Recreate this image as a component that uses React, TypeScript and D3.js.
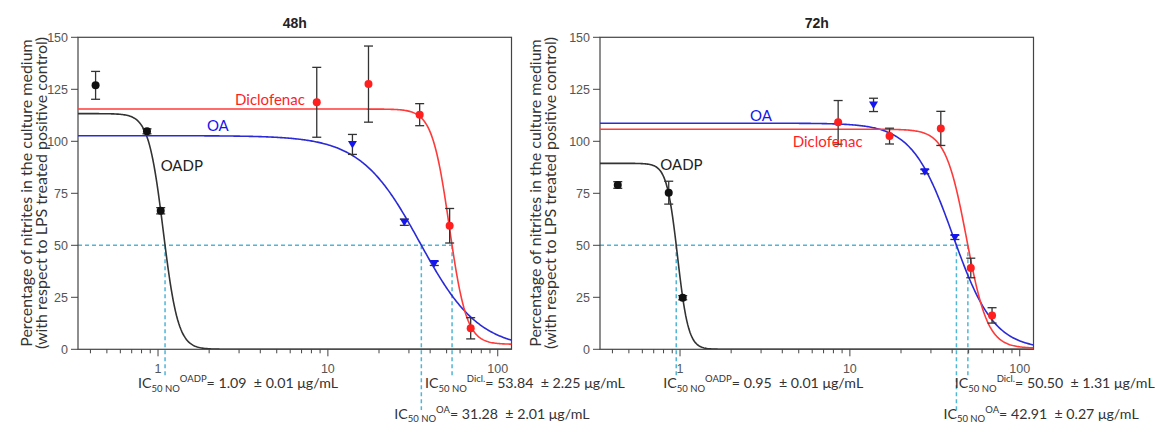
import React from 'react';
import * as d3 from 'd3';

// ---- data ----
const panelTitles = ['48h', '72h'];
const yTicks = [0, 25, 50, 75, 100, 125, 150];
const xLabelTicks = [1, 10, 100];

// 48h
const oadp48Conc = [0.429, 0.861, 1.037];
const oadp48Mean = [126.9, 104.8, 66.6];
const oadp48Err = [6.7, 1.2, 1.5];
const oa48Conc = [13.95, 28.2, 42.3];
const oa48Mean = [98.5, 61.1, 41.3];
const oa48Err = [4.8, 1.5, 1.0];
const dicl48Conc = [8.6, 17.34, 34.7, 52.1, 69.3];
const dicl48Mean = [118.75, 127.5, 112.8, 59.4, 10.1];
const dicl48Err = [16.8, 18.3, 5.3, 8.3, 5.1];

// 72h
const oadp72Conc = [0.43, 0.858, 1.037];
const oadp72Mean = [79.0, 75.3, 24.8];
const oadp72Err = [1.6, 5.5, 1.0];
const oa72Conc = [13.78, 27.6, 41.5];
const oa72Mean = [117.5, 85.4, 53.8];
const oa72Err = [3.2, 1.0, 1.0];
const dicl72Conc = [8.53, 17.12, 34.3, 51.5, 68.7];
const dicl72Mean = [109.1, 102.5, 106.2, 39.1, 16.3];
const dicl72Err = [10.5, 3.8, 8.2, 4.7, 3.7];

// fitted dose-response curves: [top, bottom, midpoint, hill]
const oadp48Fit = [113.3, 0, 1.0744, 10];
const oa48Fit = [102.7, 0, 34.76, 2.5];
const dicl48Fit = [115.5, 2.4, 51.87, 8.57];
const oadp72Fit = [89.4, 0, 0.9668, 13.6];
const oa72Fit = [108.7, 0, 40.55, 3.6];
const dicl72Fit = [105.8, 0.5, 48.66, 7];

// IC50 text: [compound superscript, value, sd]
const ic48 = [['OADP', '1.09', '0.01'], ['Dicl.', '53.84', '2.25'], ['OA', '31.28', '2.01']];
const ic72 = [['OADP', '0.95', '0.01'], ['Dicl.', '50.50', '1.31'], ['OA', '42.91', '0.27']];

const BLACK = '#111';
const RED = '#ff1f1f';
const BLUE = '#1515ee';
const DASH = '#4fb6d6';

const fourPL = (f: number[], x: number) => f[1] + (f[0] - f[1]) / (1 + Math.pow(x / f[2], f[3]));
const crossAt50 = (f: number[]) => f[2] * Math.pow((f[0] - f[1]) / (50 - f[1]) - 1, 1 / f[3]);

const top = 37.3;
const bottom = 349.3;
const plotW = 433.5;
const xDomain = [0.338, 120.5];

type Series = { conc: number[]; mean: number[]; err: number[]; fit: number[]; color: string; curve: string; marker: string };

const panels = [
  {
    title: panelTitles[0], left: 78, titleX: [32, 47], icDx: -27,
    series: [
      { conc: oadp48Conc, mean: oadp48Mean, err: oadp48Err, fit: oadp48Fit, color: BLACK, curve: '#333', marker: 'circle' },
      { conc: oa48Conc, mean: oa48Mean, err: oa48Err, fit: oa48Fit, color: BLUE, curve: '#2a2ad8', marker: 'tri' },
      { conc: dicl48Conc, mean: dicl48Mean, err: dicl48Err, fit: dicl48Fit, color: RED, curve: '#ff3a3a', marker: 'circle' },
    ] as Series[],
    ic: ic48,
    // curve labels: [text, conc, value]
    labels: [['OADP', 1.38, 85.5], ['OA', 2.25, 105], ['Diclofenac', 4.56, 117.5]],
  },
  {
    title: panelTitles[1], left: 600, titleX: [541, 556], icDx: -13,
    series: [
      { conc: oadp72Conc, mean: oadp72Mean, err: oadp72Err, fit: oadp72Fit, color: BLACK, curve: '#333', marker: 'circle' },
      { conc: oa72Conc, mean: oa72Mean, err: oa72Err, fit: oa72Fit, color: BLUE, curve: '#2a2ad8', marker: 'tri' },
      { conc: dicl72Conc, mean: dicl72Mean, err: dicl72Err, fit: dicl72Fit, color: RED, curve: '#ff3a3a', marker: 'circle' },
    ] as Series[],
    ic: ic72,
    labels: [['OADP', 1.02, 86], ['OA', 3.0, 110], ['Diclofenac', 7.4, 97.5]],
  },
];
const labelColors = ['#222', BLUE, RED];

function Panel({ p, idx }: { p: typeof panels[0]; idx: number }) {
  const x = d3.scaleLog().domain(xDomain).range([p.left, p.left + plotW]);
  const y = d3.scaleLinear().domain([0, 150]).range([bottom, top]);
  const lx0 = Math.log10(xDomain[0]);
  const lx1 = Math.log10(xDomain[1]);
  const samples = d3.range(0, 401).map(i => Math.pow(10, lx0 + (i / 400) * (lx1 - lx0)));
  const clipId = `clip${idx}`;
  const minor = x.ticks();
  const x50 = p.series.map(s => crossAt50(s.fit));
  const maxX50 = d3.max(x50) as number;
  // OADP, Dicl on first row; OA on second row
  const icOrder = [0, 2, 1];
  const rowY = [388, 418.5];
  const ff = 'Lato, "Open Sans", sans-serif';
  return (
    <g>
      <defs>
        <clipPath id={clipId}>
          <rect x={p.left} y={top} width={plotW} height={bottom - top} />
        </clipPath>
      </defs>
      <text x={p.left + plotW / 2} y={28} textAnchor="middle" fontFamily="Liberation Sans, Arial" fontWeight="bold" fontSize={14} fill="#222">{p.title}</text>
      {/* y axis title */}
      <text transform={`translate(${p.titleX[0]},193) rotate(-90)`} textAnchor="middle" fontFamily={ff} fontSize={16} fill="#333">Percentage of nitrites in the culture medium</text>
      <text transform={`translate(${p.titleX[1]},193) rotate(-90)`} textAnchor="middle" fontFamily={ff} fontSize={16} fill="#333">(with respect to LPS treated positive control)</text>
      {/* dashed IC50 guides */}
      <line x1={p.left} x2={x(maxX50)} y1={y(50)} y2={y(50)} stroke={DASH} strokeWidth={1.5} strokeDasharray="4,3" />
      {x50.map((v, i) => (
        <line key={i} x1={x(v)} x2={x(v)} y1={y(50)} y2={i === 1 ? 410 : 377} stroke={DASH} strokeWidth={1.5} strokeDasharray="4,3" />
      ))}
      {/* frame */}
      <rect x={p.left} y={top} width={plotW} height={bottom - top} fill="none" stroke="#444" strokeWidth={1.2} />
      {yTicks.map(t => (
        <g key={t}>
          <line x1={p.left - 7} x2={p.left} y1={y(t)} y2={y(t)} stroke="#444" />
          <text x={p.left - 10} y={y(t) + 4.5} textAnchor="end" fontFamily="Liberation Sans, Arial" fontSize={12.5} fill="#555">{t}</text>
        </g>
      ))}
      {minor.map((t, i) => {
        const major = xLabelTicks.includes(t);
        return <line key={i} x1={x(t)} x2={x(t)} y1={bottom} y2={bottom + (major ? 7 : 4)} stroke="#444" />;
      })}
      {xLabelTicks.map(t => (
        <text key={t} x={x(t)} y={373} textAnchor="middle" fontFamily="Liberation Sans, Arial" fontSize={12.5} fill="#555">{t}</text>
      ))}
      {/* fitted curves */}
      <g clipPath={`url(#${clipId})`}>
        {p.series.map((s, i) => {
          const path = d3.line<number>().x(d => x(d)).y(d => y(fourPL(s.fit, d)))(samples) as string;
          return <path key={i} d={path} fill="none" stroke={s.curve} strokeWidth={1.6} />;
        })}
      </g>
      {/* error bars + markers */}
      {p.series.map((s, i) => (
        <g key={i}>
          {s.conc.map((c, j) => {
            const cx = x(c);
            const cy = y(s.mean[j]);
            const y1 = y(s.mean[j] + s.err[j]);
            const y2 = y(s.mean[j] - s.err[j]);
            return (
              <g key={j}>
                <line x1={cx} x2={cx} y1={y1} y2={y2} stroke="#333" strokeWidth={1.3} />
                <line x1={cx - 4.5} x2={cx + 4.5} y1={y1} y2={y1} stroke="#333" strokeWidth={1.3} />
                <line x1={cx - 4.5} x2={cx + 4.5} y1={y2} y2={y2} stroke="#333" strokeWidth={1.3} />
                {s.marker === 'circle'
                  ? <circle cx={cx} cy={cy} r={4} fill={s.color} />
                  : <path d={`M${cx - 4.5},${cy - 3.5}L${cx + 4.5},${cy - 3.5}L${cx},${cy + 4}Z`} fill={s.color} />}
              </g>
            );
          })}
        </g>
      ))}
      {/* curve labels */}
      {p.labels.map((l, i) => (
        <text key={i} x={x(l[1] as number)} y={y(l[2] as number)} textAnchor="middle" fontFamily={ff} fontSize={15} fill={labelColors[i]}>{l[0]}</text>
      ))}
      {/* IC50 annotations */}
      {icOrder.map((si, k) => {
        const row = p.ic[k];
        const rowIdx = k === 2 ? 1 : 0;
        return (
          <text key={k} x={x(x50[si]) + p.icDx} y={rowY[rowIdx]} fontFamily={ff} fontSize={14.2} fill="#333" style={{ whiteSpace: 'pre' }}>
            IC<tspan fontSize={9.5} dy={3.5}>50 NO</tspan><tspan fontSize={9.5} dy={-9.5}>{row[0]}</tspan><tspan dy={6}>{`= ${row[1]}  \u00b1 ${row[2]} \u03bcg/mL`}</tspan>
          </text>
        );
      })}
    </g>
  );
}

export default function App() {
  return (
    <div style={{ position: 'absolute', left: 0, top: 0 }}>
      <svg width={1160} height={426} style={{ display: 'block', background: '#fff' }}>
        {panels.map((p, i) => <Panel key={i} p={p} idx={i} />)}
      </svg>
    </div>
  );
}
